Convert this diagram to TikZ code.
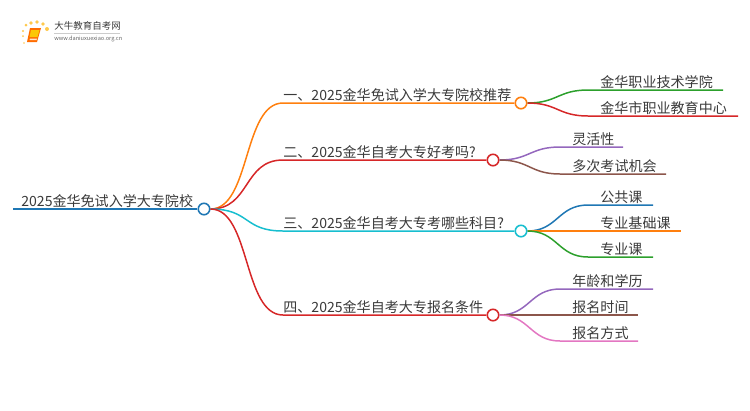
\documentclass[tikz,border=0pt]{standalone}
\usepackage{fontspec}
\setmainfont{Noto Sans CJK SC}
\definecolor{inkc}{HTML}{3A3A3A}
\definecolor{bluec}{HTML}{1F77B4}
\definecolor{orangec}{HTML}{FF7F0E}
\definecolor{redc}{HTML}{D62728}
\definecolor{cyanc}{HTML}{17BECF}
\definecolor{greenc}{HTML}{2CA02C}
\definecolor{purplec}{HTML}{9467BD}
\definecolor{brownc}{HTML}{8C564B}
\definecolor{pinkc}{HTML}{E377C2}
\tikzset{
  label/.style={anchor=south west,inner sep=0pt,text=inkc,font=\fontsize{8pt}{8pt}\selectfont,yshift=0.7pt},
  knob/.style={circle,draw=#1,fill=white,line width=0.9pt,minimum size=0.23cm,inner sep=0pt},
  wire/.style={draw=#1,line width=0.85pt},
}
\begin{document}
\begin{tikzpicture}[x=0.02cm,y=-0.02cm]
\useasboundingbox (0,0) rectangle (750,410);

% logo
\fill[orange!85!red] (30,28) -- (41,28) -- (37,42) -- (27,42) -- cycle;
\fill[yellow!60!orange] (31,30) -- (39.5,30) -- (37.5,37) -- (29.5,37) -- cycle;
\fill[orange!20] (30,38.5) -- (37,38.5) -- (36.6,40) -- (29.6,40) -- cycle;
\foreach \x/\y/\r in {26/25/1.5,31/23/1.8,37/22/1.9,43/24/1.8,47/29/2,23/31/1.2,23/36/1,24/43/0.8}
  \fill[orange!60!yellow!70] (\x,\y) circle[radius=\r];
\node[anchor=west,inner sep=0pt,text=inkc,font=\fontsize{5.4pt}{5.4pt}\selectfont] (logoname) at (54,26) {大牛教育自考网};
\node[anchor=west,inner sep=0pt,text=black!60,font=\fontsize{3.2pt}{3.2pt}\selectfont] (logourl) at (54,38.5) {www.daniuxuexiao.org.cn};
\draw[black!20,line width=0.3pt] (54,33) -- (120,33);

% root
\coordinate (roots) at (13,209);
\node[knob=bluec] (root) at (204,209) {};
\node[label] (roottext) at (21,209) {2025金华免试入学大专院校};
\draw[draw=bluec,line width=1.2pt] (roots) -- (root);

% branches
\node[knob=orangec] (one) at (521,103) {};
\node[knob=redc] (two) at (493,160) {};
\node[knob=cyanc] (three) at (521,231) {};
\node[knob=redc] (four) at (493,315) {};
\coordinate (onee) at (283,103);
\coordinate (twoe) at (283,160);
\coordinate (threee) at (283,231);
\coordinate (foure) at (283,315);
\node[label] (onetext) at (283,103) {一、2025金华免试入学大专院校推荐};
\node[label] (twotext) at (283,160) {二、2025金华自考大专好考吗?};
\node[label] (threetext) at (283,231) {三、2025金华自考大专考哪些科目?};
\node[label] (fourtext) at (283,315) {四、2025金华自考大专报名条件};
\draw[wire=orangec] (root.east) .. controls +(40,0) and +(-40,0) .. (onee) -- (one);
\draw[wire=redc] (root.east) .. controls +(40,0) and +(-40,0) .. (twoe) -- (two);
\draw[wire=cyanc] (root.east) .. controls +(40,0) and +(-40,0) .. (threee) -- (three);
\draw[wire=redc] (root.east) .. controls +(40,0) and +(-40,0) .. (foure) -- (four);

% leaves
\foreach \from/\name/\sx/\ex/\y/\col/\txt in {
  one/a/600/723/90/greenc/金华职业技术学院,
  one/b/600/738/116/redc/金华市职业教育中心,
  two/c/572/623/147/purplec/灵活性,
  two/d/572/666/174/brownc/多次考试机会,
  three/e/600/653/205/bluec/公共课,
  three/f/600/681/231/orangec/专业基础课,
  three/g/600/653/257/greenc/专业课,
  four/h/572/653/289/purplec/年龄和学历,
  four/i/572/638/315/brownc/报名时间,
  four/j/572/638/341/pinkc/报名方式}{
  \coordinate (\name s) at (\sx-12,\y);
  \coordinate (\name e) at (\ex,\y);
  \node[label] (\name) at (\sx,\y) {\txt};
  \draw[wire=\col] (\from.east) .. controls +(30,0) and +(-30,0) .. (\name s) -- (\name e);
}
\end{tikzpicture}
\end{document}
